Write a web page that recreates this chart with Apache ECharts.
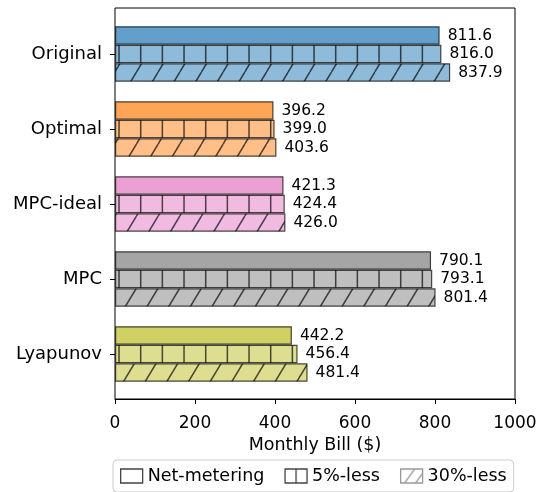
<!DOCTYPE html>
<html>
<head>
<meta charset="utf-8">
<script src="https://cdn.jsdelivr.net/npm/echarts@6/dist/echarts.min.js"></script>
<style>
  html, body { margin: 0; padding: 0; background: #fff; }
  #chart { width: 545px; height: 492px; }
</style>
</head>
<body>
<div id="chart"></div>
<script>
const categories = ["Original", "Optimal", "MPC-ideal", "MPC", "Lyapunov"];
const seriesNames = ["Net-metering", "5%-less", "30%-less"];
const netMetering = [811.6, 396.2, 421.3, 790.1, 442.2];
const less5 = [816.0, 399.0, 424.4, 793.1, 456.4];
const less30 = [837.9, 403.6, 426.0, 801.4, 481.4];
const xTicks = [0, 200, 400, 600, 800, 1000];
// tab10 colours of each method
const baseColors = ["#1f77b4", "#ff7f0e", "#e377c2", "#7f7f7f", "#bcbd22"];

const FONT = "DejaVu Sans";
const EDGE = "rgba(0,0,0,0.7)";

// blend a colour with white, like matplotlib alpha on white background
function fade(hex, a) {
  const r = parseInt(hex.slice(1, 3), 16), g = parseInt(hex.slice(3, 5), 16), b = parseInt(hex.slice(5, 7), 16);
  const m = v => Math.round(v * a + 255 * (1 - a));
  return "rgb(" + m(r) + "," + m(g) + "," + m(b) + ")";
}

// hatch tile, anchored at the canvas origin
function hatch(bg, kind) {
  const W = 65, H = 36, step = W / 3;
  const c = document.createElement("canvas");
  c.width = W; c.height = H;
  const ctx = c.getContext("2d");
  ctx.fillStyle = bg;
  ctx.fillRect(0, 0, W, H);
  ctx.strokeStyle = "rgba(0,0,0,0.68)";
  ctx.lineWidth = 1.5;
  ctx.beginPath();
  for (let k = -2; k <= 5; k++) {
    if (kind === "grid") {
      const x = 10.7 + k * step;
      ctx.moveTo(x, 0); ctx.lineTo(x, H);
    } else if (kind === "diag") {
      ctx.moveTo(6.5 + k * step, 0); ctx.lineTo(6.5 + (k - 1) * step, H);
    }
  }
  ctx.stroke();
  return { image: c, repeat: "repeat" };
}

function legendIcon(kind) {
  const W = 22, H = 14;
  const c = document.createElement("canvas");
  c.width = W; c.height = H;
  const ctx = c.getContext("2d");
  ctx.fillStyle = "#fff";
  ctx.fillRect(0, 0, W, H);
  ctx.strokeStyle = kind === "diag" ? "#999" : "#444";
  ctx.lineWidth = 1.3;
  ctx.beginPath();
  if (kind === "grid") { ctx.moveTo(11, 0); ctx.lineTo(11, H); }
  if (kind === "diag") { ctx.moveTo(4, H); ctx.lineTo(14, 0); ctx.moveTo(15, H); ctx.lineTo(25, 0); }
  ctx.stroke();
  return { image: c, repeat: "repeat" };
}

const kinds = ["solid", "grid", "diag"];
const alphas = [0.7, 0.5, 0.5];
const values = [netMetering, less5, less30];

const series = seriesNames.map((name, s) => ({
  name: name,
  type: "bar",
  xAxisIndex: 1,
  yAxisIndex: 1,
  barWidth: 18.5,
  barGap: "0%",
  data: values[s].map((v, i) => ({
    value: v,
    itemStyle: {
      color: kinds[s] === "solid" ? fade(baseColors[i], alphas[s]) : hatch(fade(baseColors[i], alphas[s]), kinds[s]),
      borderColor: EDGE,
      borderWidth: 1.2
    }
  })),
  label: {
    show: true,
    position: "right",
    distance: 8,
    fontFamily: FONT,
    fontSize: 15.5,
    color: "#000",
    formatter: p => p.value.toFixed(1)
  }
}));

const chart = echarts.init(document.getElementById("chart"));
chart.setOption({
  animation: false,
  textStyle: { fontFamily: FONT, color: "#000" },
  grid: [
    { left: 115, top: 8, width: 400, height: 391, show: true, borderColor: "#000", borderWidth: 1, backgroundColor: "transparent" },
    { left: 115, top: 16.5, width: 400, height: 375 }
  ],
  xAxis: [
    {
      gridIndex: 0, type: "value", min: xTicks[0], max: xTicks[xTicks.length - 1], interval: 200,
      name: "Monthly Bill ($)", nameLocation: "middle", nameGap: 37,
      nameTextStyle: { fontFamily: FONT, fontSize: 17.5, color: "#000" },
      axisLine: { show: true, lineStyle: { color: "#000" } },
      axisTick: { show: true, length: 5, lineStyle: { color: "#000" } },
      axisLabel: { fontFamily: FONT, fontSize: 17, color: "#000", margin: 16, formatter: v => String(v) },
      splitLine: { show: false }
    },
    { gridIndex: 1, type: "value", min: 0, max: 1000, show: false }
  ],
  yAxis: [
    { gridIndex: 0, type: "value", min: 0, max: 1, show: false },
    {
      gridIndex: 1, type: "category", data: categories, inverse: true,
      axisLine: { show: false },
      axisTick: { show: true, length: 5, alignWithLabel: true, lineStyle: { color: "#000" } },
      axisLabel: { fontFamily: FONT, fontSize: 18, color: "#000", margin: 13 },
      splitLine: { show: false }
    }
  ],
  legend: {
    left: 113, top: 460,
    padding: [7, 7],
    itemGap: 20,
    itemWidth: 22, itemHeight: 14,
    borderColor: "#ccc", borderWidth: 1, borderRadius: 4,
    textStyle: { fontFamily: FONT, fontSize: 17.5, color: "#000" },
    data: seriesNames.map((n, s) => ({
      name: n,
      icon: "rect",
      itemStyle: {
        color: kinds[s] === "solid" ? "#fff" : legendIcon(kinds[s]),
        borderColor: kinds[s] === "diag" ? "#999" : "#444",
        borderWidth: 1.3
      }
    }))
  },
  series: series
});
</script>
</body>
</html>
